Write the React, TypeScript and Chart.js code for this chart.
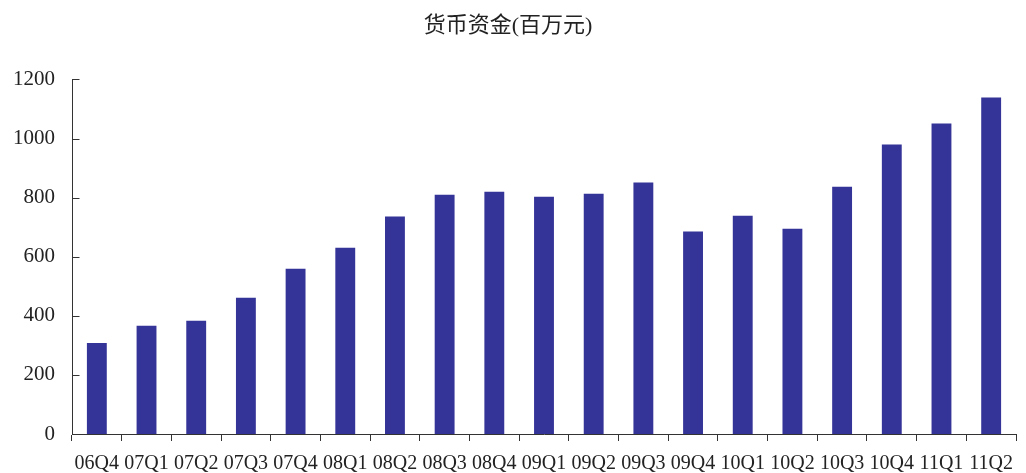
import React, { useEffect, useRef } from "react";
import { Chart, registerables } from "chart.js";

Chart.register(...registerables);

const categories = ["06Q4","07Q1","07Q2","07Q3","07Q4","08Q1","08Q2","08Q3","08Q4","09Q1","09Q2","09Q3","09Q4","10Q1","10Q2","10Q3","10Q4","11Q1","11Q2"];
const cashValues = [308, 366, 383, 461, 559, 630, 736, 810, 820, 803, 813, 851, 685, 739, 695, 837, 980, 1051, 1139];
const yTicks = [0, 200, 400, 600, 800, 1000, 1200];
const titleText = "货币资金(百万元)";

const FONT = "'Liberation Serif', 'Noto Sans CJK SC', serif";

const innerTicks = {
  id: "innerTicks",
  afterDraw(chart: any) {
    const ctx = chart.ctx;
    const y = chart.scales.y;
    const ax = Math.round(chart.chartArea.left) + 0.5;
    ctx.save();
    ctx.strokeStyle = "#333";
    ctx.lineWidth = 1;
    ctx.beginPath();
    for (const v of yTicks) {
      const py = Math.round(y.getPixelForValue(v)) + 0.5;
      ctx.moveTo(ax, py);
      ctx.lineTo(ax + 7, py);
    }
    ctx.stroke();
    ctx.restore();
  },
};

export default function App() {
  const ref = useRef<HTMLCanvasElement>(null);
  useEffect(() => {
    document.body.style.margin = "0";
    const chart = new Chart(ref.current!, {
      type: "bar",
      data: {
        labels: categories,
        datasets: [
          {
            data: cashValues,
            backgroundColor: "#343397",
            barPercentage: 0.4,
            categoryPercentage: 1,
          },
        ],
      },
      options: {
        animation: false,
        responsive: false,
        layout: { padding: { left: 0, right: 10, top: 0, bottom: 0 } },
        plugins: {
          legend: { display: false },
          tooltip: { enabled: false },
          title: {
            display: true,
            text: titleText,
            color: "#222",
            font: { family: FONT, size: 22, weight: "normal" },
            padding: { top: 13, bottom: 40 },
          },
        },
        scales: {
          x: {
            grid: {
              offset: true,
              drawOnChartArea: false,
              drawTicks: true,
              tickLength: 7,
              color: "#333",
            },
            border: { color: "#333", width: 1 },
            ticks: {
              color: "#222",
              font: { family: FONT, size: 20 },
              padding: 11,
              maxRotation: 0,
              autoSkip: false,
            },
            afterFit(scale: any) {
              scale.height = 39;
            },
          },
          y: {
            min: 0,
            max: 1200,
            grid: { display: false, drawTicks: false },
            border: { color: "#333", width: 1 },
            ticks: {
              stepSize: 200,
              color: "#222",
              font: { family: FONT, size: 21 },
              padding: 17,
              callback: (v: any) => String(v),
            },
            afterFit(scale: any) {
              scale.width = 72;
            },
          },
        },
      },
      plugins: [innerTicks],
    } as any);
    return () => chart.destroy();
  }, []);
  return (
    <div style={{ position: "absolute", left: 0, top: 0, width: 1026, height: 473, background: "#fff" }}>
      <canvas ref={ref} width={1026} height={473} />
    </div>
  );
}
